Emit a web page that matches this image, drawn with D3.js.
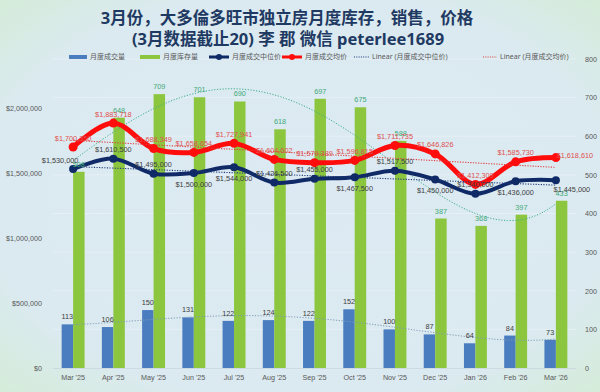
<!DOCTYPE html>
<html>
<head>
<meta charset="utf-8">
<script src="https://cdn.jsdelivr.net/npm/d3@7"></script>
<style>
  body { margin: 0; }
  svg { display: block; }
</style>
</head>
<body>
<div id="chart"></div>
<script>
// chart data
const months = ["Mar '25", "Apr '25", "May '25", "Jun '25", "Jul '25", "Aug '25", "Sep '25",
  "Oct '25", "Nov '25", "Dec '25", "Jan '26", "Feb '26", "Mar '26"];
const sales = [113, 106, 150, 131, 122, 124, 122, 152, 100, 87, 64, 84, 73];
const inventory = [508, 648, 709, 701, 690, 618, 697, 675, 588, 387, 368, 397, 433];
const medianPrice = [1530000, 1610500, 1495000, 1500000, 1544000, 1426500, 1455000,
  1467500, 1517500, 1450000, 1340000, 1436000, 1445000];
const avgPrice = [1700350, 1883718, 1688349, 1658654, 1727941, 1604602, 1579389,
  1596815, 1711735, 1646826, 1412309, 1585730, 1618610];
const leftTicks = [0, 500000, 1000000, 1500000, 2000000];
const rightTicks = [0, 100, 200, 300, 400, 500, 600, 700, 800];
const legendNames = ["月度成交量", "月度库存量", "月度成交中位价", "月度成交均价",
  "Linear (月度成交中位价)", "Linear (月度成交均价)"];

// where each price label sits relative to its point
const medianLabelPos = ['al', 'a', 'a', 'b', 'b', 'a', 'a', 'b', 'a', 'b', 'a', 'b', 'br'];
const avgLabelPos = ['a', 'a', 'a', 'a', 'a', 'a', 'a', 'a', 'a', 'a', 'a', 'a', 'r'];

const w = 600, h = 392;
const plotL = 53, plotR = 576, plotT = 59, plotB = 368;

const C = {
  blue: '#4a7dbf', green: '#8cc63f', navy: '#0f2a66', red: '#ff0d0d',
  text: '#595959', greenText: '#3faa78', redText: '#e0504f', title: '#1f3a62'
};

const svg = d3.select('#chart').append('svg')
  .attr('width', w).attr('height', h);

// background
const defs = svg.append('defs');
const grad = defs.append('radialGradient').attr('id', 'bg')
  .attr('cx', '50%').attr('cy', '50%').attr('r', '75%');
grad.append('stop').attr('offset', '0%').attr('stop-color', '#dce9f3');
grad.append('stop').attr('offset', '70%').attr('stop-color', '#dbeaf0');
grad.append('stop').attr('offset', '100%').attr('stop-color', '#d3ecd3');
svg.append('rect').attr('width', w).attr('height', h).attr('fill', 'url(#bg)');

// scales
const x = d3.scaleBand().domain(months).range([plotL, plotR])
  .paddingInner(0.43).paddingOuter(0.215);
const half = x.bandwidth() / 2;
const cx = m => x(m) + half;
const yL = d3.scaleLinear().domain([0, 2377000]).range([plotB, plotT]);
const yR = d3.scaleLinear().domain([0, 800]).range([plotB, plotT]);

// gridlines
svg.append('g').selectAll('line').data(rightTicks.slice(1)).enter().append('line')
  .attr('x1', plotL).attr('x2', plotR)
  .attr('y1', d => yR(d)).attr('y2', d => yR(d))
  .attr('stroke', '#e9f1f6').attr('stroke-width', 0.8);
svg.append('line').attr('x1', plotL).attr('x2', plotR)
  .attr('y1', plotB + 0.5).attr('y2', plotB + 0.5)
  .attr('stroke', '#c9d6de').attr('stroke-width', 0.8);

// axes
const font = '"Liberation Sans", Arial, sans-serif';
const axL = svg.append('g').attr('transform', `translate(${plotL - 8},0)`)
  .call(d3.axisLeft(yL).tickValues(leftTicks).tickSize(0)
    .tickFormat(d => '$' + d3.format(',')(d)));
const axR = svg.append('g').attr('transform', `translate(${plotR + 6},0)`)
  .call(d3.axisRight(yR).tickValues(rightTicks).tickSize(0));
const axB = svg.append('g').attr('transform', `translate(0,${plotB + 4})`)
  .call(d3.axisBottom(x).tickSize(0));
[axL, axR, axB].forEach(a => {
  a.select('.domain').remove();
  a.selectAll('text').attr('fill', C.text).style('font-family', font).style('font-size', '7.2px');
});

// bars
svg.append('g').selectAll('rect').data(sales).enter().append('rect')
  .attr('x', (d, i) => x(months[i]))
  .attr('y', d => yR(d))
  .attr('width', half)
  .attr('height', d => plotB - yR(d))
  .attr('fill', C.blue);
svg.append('g').selectAll('rect').data(inventory).enter().append('rect')
  .attr('x', (d, i) => x(months[i]) + half)
  .attr('y', d => yR(d))
  .attr('width', half)
  .attr('height', d => plotB - yR(d))
  .attr('fill', C.green);

// least squares polynomial fit, x = 1..n
function polyFit(vals, deg) {
  const n = deg + 1;
  const A = Array.from({ length: n }, () => new Array(n + 1).fill(0));
  vals.forEach((v, i) => {
    const t = i + 1;
    for (let r = 0; r < n; r++) {
      for (let c = 0; c < n; c++) A[r][c] += Math.pow(t, r + c);
      A[r][n] += v * Math.pow(t, r);
    }
  });
  for (let p = 0; p < n; p++) {
    let mx = p;
    for (let r = p + 1; r < n; r++) if (Math.abs(A[r][p]) > Math.abs(A[mx][p])) mx = r;
    [A[p], A[mx]] = [A[mx], A[p]];
    for (let r = 0; r < n; r++) {
      if (r === p) continue;
      const f = A[r][p] / A[p][p];
      for (let c = p; c <= n; c++) A[r][c] -= f * A[p][c];
    }
  }
  const coef = A.map((row, i) => row[n] / row[i]);
  return t => coef.reduce((s, c, k) => s + c * Math.pow(t, k), 0);
}

const step = x.step();
const x0 = cx(months[0]);
function trend(vals, deg, yScale, color, width, dash) {
  const f = polyFit(vals, deg);
  const pts = d3.range(1, months.length + 0.001, 0.1).map(t => [x0 + (t - 1) * step, yScale(f(t))]);
  svg.append('path').datum(pts)
    .attr('d', d3.line())
    .attr('fill', 'none').attr('stroke', color)
    .attr('stroke-width', width).attr('stroke-dasharray', dash);
}

// trendlines behind price lines
trend(sales, 4, yR, '#7f9bb5', 1, '1.2,1.6');
trend(inventory, 4, yR, '#3fae86', 1, '1.2,1.6');

// price lines
const lineL = d3.line().x((d, i) => cx(months[i])).y(d => yL(d)).curve(d3.curveCatmullRom);
svg.append('path').datum(avgPrice).attr('d', lineL)
  .attr('fill', 'none').attr('stroke', C.red).attr('stroke-width', 5);
svg.append('path').datum(medianPrice).attr('d', lineL)
  .attr('fill', 'none').attr('stroke', C.navy).attr('stroke-width', 4);

trend(medianPrice, 1, yL, '#1f3a7a', 1.1, '1.2,1.4');
trend(avgPrice, 1, yL, '#e03c3c', 1.1, '1.2,1.4');

svg.append('g').selectAll('circle').data(avgPrice).enter().append('circle')
  .attr('cx', (d, i) => cx(months[i])).attr('cy', d => yL(d)).attr('r', 4.5)
  .attr('fill', C.red);
svg.append('g').selectAll('circle').data(medianPrice).enter().append('circle')
  .attr('cx', (d, i) => cx(months[i])).attr('cy', d => yL(d)).attr('r', 4)
  .attr('fill', C.navy);

// data labels
const money = d => '$' + d3.format(',')(d);
const offsets = {
  a: [0, -9], b: [0, 11], al: [-13, -9], br: [16, 9], r: [19, -2]
};
function labels(vals, posArr, yScale, color, fmt, xShift) {
  svg.append('g').selectAll('text').data(vals).enter().append('text')
    .attr('x', (d, i) => cx(months[i]) + xShift + (posArr ? offsets[posArr[i]][0] : 0))
    .attr('y', (d, i) => yScale(d) + (posArr ? offsets[posArr[i]][1] : -5))
    .attr('dy', posArr ? '0.35em' : 0)
    .attr('text-anchor', 'middle')
    .attr('fill', color)
    .style('font-family', font).style('font-size', '7.3px')
    .text(fmt);
}
labels(sales, null, yR, '#404040', d => d, -half / 2);
labels(inventory, null, yR, C.greenText, d => d, half / 2);
labels(avgPrice, avgLabelPos, yL, C.redText, money, 0);
labels(medianPrice, medianLabelPos, yL, '#404040', money, 0);

// title
const cjk = '"Noto Sans", "Noto Sans CJK SC", sans-serif';
svg.append('text').attr('x', 287).attr('y', 24).attr('text-anchor', 'middle')
  .attr('fill', C.title).style('font-family', cjk).style('font-weight', 'bold')
  .style('font-size', '16.5px').text('3月份，大多倫多旺市独立房月度库存，销售，价格');
svg.append('text').attr('x', 288).attr('y', 45).attr('text-anchor', 'middle')
  .attr('fill', C.title).style('font-family', cjk).style('font-weight', 'bold')
  .style('font-size', '16.5px').text('(3月数据截止20) 李 郡  微信 peterlee1689');

// legend
const legendSwatchX = [69, 140, 209, 282, 354, 483];
const legendTextX = [90, 163, 232, 305, 372, 500];
const legendY = 57;
const lg = svg.append('g');
legendNames.forEach((name, i) => {
  const sx = legendSwatchX[i], tx = legendTextX[i];
  if (i < 2) {
    lg.append('rect').attr('x', sx).attr('y', legendY - 2).attr('width', tx - sx - 3).attr('height', 4)
      .attr('fill', i === 0 ? C.blue : C.green);
  } else if (i < 4) {
    const col = i === 2 ? C.navy : C.red;
    lg.append('line').attr('x1', sx).attr('x2', tx - 3).attr('y1', legendY).attr('y2', legendY)
      .attr('stroke', col).attr('stroke-width', 3);
    lg.append('circle').attr('cx', (sx + tx - 3) / 2).attr('cy', legendY).attr('r', 3).attr('fill', col);
  } else {
    lg.append('line').attr('x1', sx).attr('x2', tx - 3).attr('y1', legendY).attr('y2', legendY)
      .attr('stroke', i === 4 ? '#1f3a7a' : '#e03c3c').attr('stroke-width', 1)
      .attr('stroke-dasharray', '1,1.3');
  }
  lg.append('text').attr('x', tx).attr('y', legendY).attr('dy', '0.35em')
    .attr('fill', C.text).style('font-family', cjk).style('font-size', '7px').text(name);
});
</script>
</body>
</html>
